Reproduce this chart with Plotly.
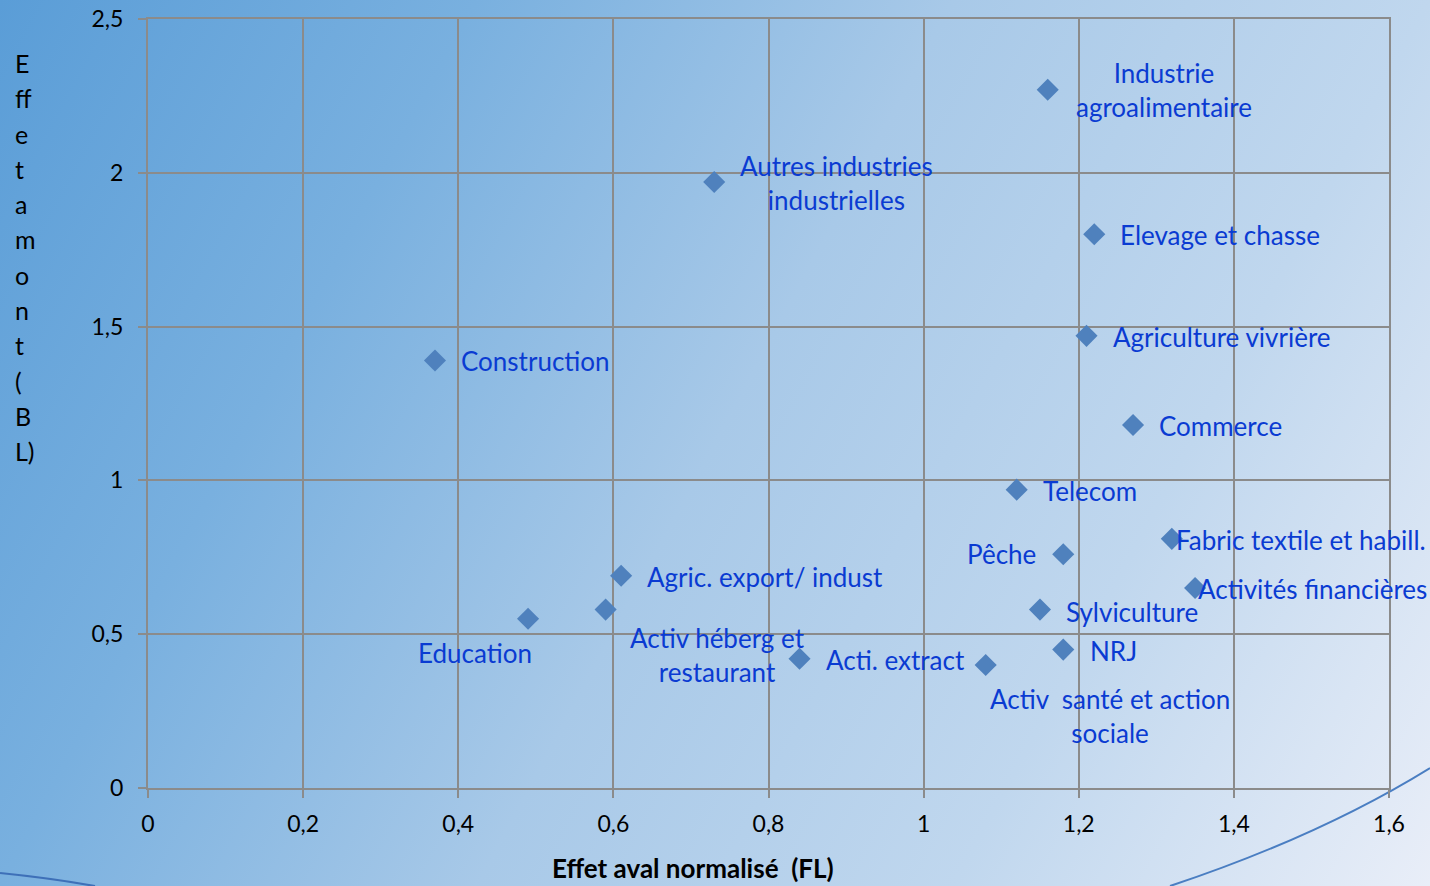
import base64
import plotly.graph_objects as go

# ---- data ----
sectors = [
    "Industrie agroalimentaire", "Autres industries industrielles", "Elevage et chasse",
    "Agriculture vivrière", "Construction", "Commerce", "Telecom",
    "Fabric textile et habill.", "Pêche", "Activités financières",
    "Agric. export/ indust", "Activ héberg et restaurant", "Education",
    "Sylviculture", "NRJ", "Acti. extract", "Activ  santé et action sociale",
]
fl_values = [1.16, 0.73, 1.22, 1.21, 0.37, 1.27, 1.12, 1.32, 1.18, 1.35,
             0.61, 0.59, 0.49, 1.15, 1.18, 0.84, 1.08]
bl_values = [2.27, 1.97, 1.80, 1.47, 1.39, 1.18, 0.97, 0.81, 0.76, 0.65,
             0.69, 0.58, 0.55, 0.58, 0.45, 0.42, 0.40]
x_ticks = [0, 0.2, 0.4, 0.6, 0.8, 1.0, 1.2, 1.4, 1.6]
x_ticktext = ["0", "0,2", "0,4", "0,6", "0,8", "1", "1,2", "1,4", "1,6"]
y_ticks = [0, 0.5, 1.0, 1.5, 2.0, 2.5]
y_ticktext = ["0", "0,5", "1", "1,5", "2", "2,5"]
x_title = "Effet aval normalisé  (FL)"
y_title_lines = ["E", "ff", "e", "t", "a", "m", "o", "n", "t", "(", "B", "L)"]

# label display text and pixel offsets (styling only)
label_text = {
    "Industrie agroalimentaire": "Industrie<br>agroalimentaire",
    "Autres industries industrielles": "Autres industries<br>industrielles",
    "Activ héberg et restaurant": "Activ héberg et<br>restaurant",
    "Activ  santé et action sociale": "Activ  santé et action<br>sociale",
}
# (xanchor, xshift, yshift)
label_style = {
    "Industrie agroalimentaire": ("center", 116, 0),
    "Autres industries industrielles": ("center", 122, -1),
    "Elevage et chasse": ("left", 24, -1),
    "Agriculture vivrière": ("left", 24, -1),
    "Construction": ("left", 24, -1),
    "Commerce": ("left", 24, -1),
    "Telecom": ("left", 24, -1),
    "Fabric textile et habill.": ("left", 2, -1),
    "Pêche": ("right", -25, 0),
    "Activités financières": ("left", 1, -1),
    "Agric. export/ indust": ("left", 24, -1),
    "Activ héberg et restaurant": ("center", 112, -45),
    "Education": ("center", -53, -34),
    "Sylviculture": ("left", 24, -2),
    "NRJ": ("left", 25, -1),
    "Acti. extract": ("left", 24, -1),
    "Activ  santé et action sociale": ("center", 124, -51),
}

W, H = 1430, 886
L, R, T, B = 148, 1389, 19, 788
FONT = "Lato, Carlito, Calibri, sans-serif"
LABEL_COLOR = "#0A3BD2"
GRID = "#8B8B8B"

# background gradient + decorative curves as SVG
svg = f'''<svg xmlns="http://www.w3.org/2000/svg" width="{W}" height="{H}" viewBox="0 0 {W} {H}" preserveAspectRatio="none">
<defs><linearGradient id="g" gradientUnits="userSpaceOnUse" x1="0" y1="0" x2="1479" y2="796">
<stop offset="0" stop-color="#5A9DD7"/>
<stop offset="0.25" stop-color="#79B0DF"/>
<stop offset="0.5" stop-color="#A8C9E8"/>
<stop offset="0.75" stop-color="#C0D7EE"/>
<stop offset="1" stop-color="#E9EEF8"/>
</linearGradient></defs>
<rect x="0" y="0" width="{W}" height="{H}" fill="url(#g)"/>
<path d="M 0 873 Q 50 878 95 886" stroke="#3E70B8" stroke-width="2.2" fill="none"/>
<path d="M 1170 886 Q 1320 836 1430 768" stroke="#4A7EC2" stroke-width="2" fill="none"/>
</svg>'''
src = "data:image/svg+xml;base64," + base64.b64encode(svg.encode()).decode()

fig = go.Figure()
fig.add_trace(go.Scatter(
    x=fl_values, y=bl_values, mode="markers",
    marker=dict(symbol="diamond", size=17, color="#4F81BD", line=dict(width=0)),
    hoverinfo="skip", showlegend=False,
))

annotations = []
for name, xv, yv in zip(sectors, fl_values, bl_values):
    anchor, xs, ys = label_style[name]
    annotations.append(dict(
        x=xv, y=yv, xref="x", yref="y", text=label_text.get(name, name),
        showarrow=False, xanchor=anchor, yanchor="middle", align="center",
        xshift=xs, yshift=ys, font=dict(family=FONT, size=26, color=LABEL_COLOR),
    ))

# x-axis title
annotations.append(dict(
    x=(693 - L) / (R - L), y=-(868 - B) / (B - T), xref="paper", yref="paper",
    text="<b>" + x_title + "</b>", showarrow=False, xanchor="center", yanchor="middle",
    font=dict(family=FONT, size=26, color="black"),
))
# y-axis title (stacked letters)
for i, t in enumerate(y_title_lines):
    ypx = 63 + i * 35.3
    annotations.append(dict(
        x=(13 - L) / (R - L), y=(B - ypx) / (B - T), xref="paper", yref="paper",
        text=t, showarrow=False, xanchor="left", yanchor="middle",
        font=dict(family=FONT, size=25, color="black"),
    ))

fig.update_layout(
    width=W, height=H,
    margin=dict(l=L, r=W - R, t=T, b=H - B, pad=0, autoexpand=False),
    paper_bgcolor="#A8C9E8", plot_bgcolor="rgba(0,0,0,0)",
    font=dict(family=FONT, color="black"),
    annotations=annotations,
    images=[dict(
        source=src, xref="paper", yref="paper",
        x=-L / (R - L), y=1 + T / (B - T), sizex=W / (R - L), sizey=H / (B - T),
        xanchor="left", yanchor="top", sizing="stretch", layer="below",
    )],
    xaxis=dict(
        range=[0, 1.6], tickvals=x_ticks, ticktext=x_ticktext,
        showgrid=True, gridcolor=GRID, gridwidth=2,
        showline=True, linecolor=GRID, linewidth=2, mirror=True,
        ticks="outside", ticklen=8, tickcolor=GRID, tickwidth=2,
        ticklabelstandoff=6, tickfont=dict(family=FONT, size=23, color="black"),
        zeroline=False, fixedrange=True, automargin=False,
    ),
    yaxis=dict(
        range=[0, 2.5], tickvals=y_ticks, ticktext=y_ticktext,
        showgrid=True, gridcolor=GRID, gridwidth=2,
        showline=True, linecolor=GRID, linewidth=2, mirror=True,
        ticks="outside", ticklen=8, tickcolor=GRID, tickwidth=2,
        ticklabelstandoff=10, tickfont=dict(family=FONT, size=23, color="black"),
        zeroline=True, zerolinecolor="#888888", zerolinewidth=3, fixedrange=True,
        automargin=False,
    ),
)

fig.write_html(
    "out.html",
    config={"displayModeBar": False},
    post_script="document.body.style.margin='0';document.body.style.padding='0';"
                "document.body.style.overflow='hidden';"
                "document.documentElement.style.overflow='hidden';",
)
